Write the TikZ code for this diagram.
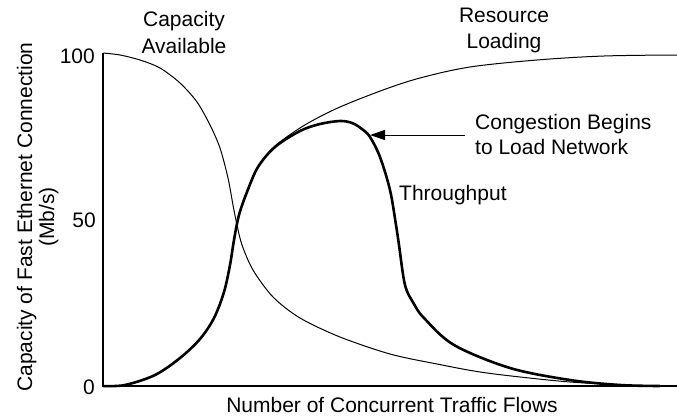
\documentclass[tikz,border=0pt]{standalone}
\usepackage{fontspec}
\setmainfont{Liberation Sans}
\usetikzlibrary{arrows.meta}
\tikzset{
  lbl/.style={inner sep=0pt, font=\fontsize{21}{25}\selectfont},
  thin curve/.style={line width=1pt, black},
  thick curve/.style={line width=2.6pt, black},
  axisline/.style={line width=1.2pt, black},
  pointer/.style={line width=1pt, -{Triangle[length=15pt,width=10pt]}}
}
\begin{document}
\begin{tikzpicture}[x=1pt,y=-1pt]
\useasboundingbox (0,0) rectangle (677,415);
% axes
\draw[axisline] (103,53) -- (103,386) -- (677,386);
% tick labels
\node[lbl, anchor=base east] (t100) at (95,63) {100};
\node[lbl, anchor=base east] (t50) at (96,227) {50};
\node[lbl, anchor=base east] (t0) at (95,394) {0};
% axis titles
\node[lbl, rotate=90, anchor=base] (ylab1) at (32,217) {Capacity of Fast Ethernet Connection};
\node[lbl, rotate=90, anchor=base] (ylab2) at (54,217) {(Mb/s)};
\node[lbl, anchor=base] (xlab) at (392,412) {Number of Concurrent Traffic Flows};
% curve labels
\node[lbl, anchor=base] (capA1) at (184,27) {Capacity};
\node[lbl, anchor=base] (capA2) at (184,53) {Available};
\node[lbl, anchor=base] (res1) at (504,23) {Resource};
\node[lbl, anchor=base] (res2) at (504,48) {Loading};
\node[lbl, anchor=base west] (cong1) at (475,129) {Congestion Begins};
\node[lbl, anchor=base west] (cong2) at (475,154) {to Load Network};
\node[lbl, anchor=base west] (thr) at (399,200) {Throughput};
% Capacity Available
\draw[thin curve] plot[smooth, tension=0.5] coordinates {
 (103,53) (120,55) (140,60) (160,68) (180,83) (197,102) (210,125) (220,148)
 (228,178) (233,205) (237,225) (242,245) (253,270) (273,297) (300,318)
 (340,337) (390,354) (437,364) (487,373) (570,382) (650,386)};
% Resource Loading
\draw[thin curve] plot[smooth, tension=0.55] coordinates {
 (103,386) (125,385) (155,375) (180,358) (200,339) (214,318) (224,292)
 (230,265) (234,240) (239,215) (247,192) (258,167) (272,149) (288,136)
 (310,122) (340,107) (383,90) (420,78) (470,67) (537,60) (604,56) (677,55)};
% Throughput
\draw[thick curve] plot[smooth, tension=0.55] coordinates {
 (103,386) (125,385) (155,375) (180,358) (200,339) (214,318) (224,292)
 (230,265) (234,240) (239,215) (247,192) (258,167) (275,147) (300,131)
 (320,124) (340,121) (352,123) (362,129) (370,137) (380,157) (390,190)
 (396,225) (399,245) (405,285) (414,304) (424,318) (454,345) (510,368)
 (570,380) (620,385) (660,386)};
% pointer
\coordinate (arrowfrom) at (465,135);
\coordinate (tip) at (370,135);
\draw[pointer] (arrowfrom) -- (tip);
\end{tikzpicture}
\end{document}
